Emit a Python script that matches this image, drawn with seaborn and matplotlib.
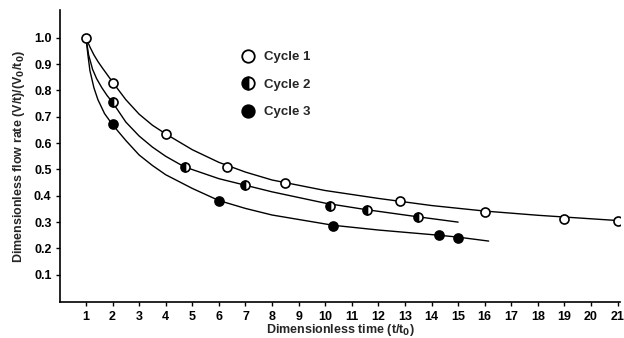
import numpy as np
import pandas as pd
import seaborn as sns
import matplotlib
matplotlib.use("Agg")
import matplotlib.pyplot as plt
from matplotlib.lines import Line2D

# Measured data points
c1_x = [1, 2, 4, 6.3, 8.5, 12.8, 16, 19, 21]
c1_y = [1.0, 0.83, 0.635, 0.51, 0.45, 0.38, 0.34, 0.313, 0.306]
c2_x = [2, 4.72, 7.0, 10.17, 11.56, 13.5]
c2_y = [0.757, 0.51, 0.44, 0.362, 0.347, 0.321]
c3_x = [2, 6.0, 10.3, 14.3, 15.0]
c3_y = [0.672, 0.38, 0.287, 0.25, 0.24]

# Fitted curves
f1_x = [1, 1.15, 1.3, 1.45, 1.6, 1.8, 2, 2.5, 3, 3.5, 4, 5, 6, 7, 8, 10, 12, 14, 16, 18, 21]
f1_y = [1.0, 0.965, 0.935, 0.91, 0.888, 0.86, 0.832, 0.765, 0.71, 0.668, 0.635, 0.575, 0.527, 0.49, 0.46, 0.42, 0.39, 0.363, 0.342, 0.326, 0.306]
f2_x = [1, 1.1, 1.25, 1.4, 1.6, 1.8, 2, 2.5, 3, 3.5, 4, 4.7, 6, 7, 8, 10, 11.5, 13.5, 15]
f2_y = [1.0, 0.935, 0.88, 0.845, 0.81, 0.78, 0.755, 0.68, 0.627, 0.585, 0.55, 0.51, 0.465, 0.44, 0.415, 0.372, 0.348, 0.32, 0.30]
f3_x = [1, 1.08, 1.15, 1.3, 1.45, 1.7, 2, 2.5, 3, 3.5, 4, 5, 6, 7, 8, 10.3, 12, 14.3, 15, 16.15]
f3_y = [1.0, 0.93, 0.875, 0.81, 0.765, 0.712, 0.67, 0.61, 0.555, 0.515, 0.48, 0.428, 0.382, 0.352, 0.327, 0.288, 0.27, 0.25, 0.243, 0.228]

x_ticks = list(range(1, 22))
y_ticks = [0.1, 0.2, 0.3, 0.4, 0.5, 0.6, 0.7, 0.8, 0.9, 1.0]
series_names = ["Cycle 1", "Cycle 2", "Cycle 3"]

sns.set_theme(style="ticks")
plt.rcParams['font.family'] = ['Liberation Sans', 'DejaVu Sans']
plt.rcParams['font.weight'] = 'bold'

fig = plt.figure(figsize=(6.24, 3.38), dpi=100)
ax = fig.add_axes([0.096, 0.106, 0.898, 0.864])

lw = 1.0
for fx, fy in [(f1_x, f1_y), (f2_x, f2_y), (f3_x, f3_y)]:
    df = pd.DataFrame({"x": fx, "y": fy})
    sns.lineplot(data=df, x="x", y="y", ax=ax, color="black", linewidth=lw,
                 sort=False, estimator=None)

ms = 6.5
mew = 1.2
df1 = pd.DataFrame({"x": c1_x, "y": c1_y})
df2 = pd.DataFrame({"x": c2_x, "y": c2_y})
df3 = pd.DataFrame({"x": c3_x, "y": c3_y})
sns.lineplot(data=df1, x="x", y="y", ax=ax, linestyle="", marker="o", markersize=ms,
             markerfacecolor="white", markeredgecolor="black", markeredgewidth=mew,
             color="black", estimator=None, zorder=5)
sns.lineplot(data=df2, x="x", y="y", ax=ax, linestyle="", marker="o", markersize=ms,
             fillstyle="left", markerfacecolor="black", markerfacecoloralt="white",
             markeredgecolor="black", markeredgewidth=mew, color="black", estimator=None, zorder=5)
sns.lineplot(data=df3, x="x", y="y", ax=ax, linestyle="", marker="o", markersize=ms,
             markerfacecolor="black", markeredgecolor="black", markeredgewidth=mew,
             color="black", estimator=None, zorder=5)

ax.set_xlim(0.02, 21.1)
ax.set_ylim(-0.004, 1.105)
ax.set_xticks(x_ticks)
ax.set_xticklabels([str(v) for v in x_ticks])
ax.set_yticks(y_ticks)
ax.set_yticklabels([f"{v:.1f}" for v in y_ticks])
ax.tick_params(axis="both", labelsize=9, length=3, width=1, direction="out", pad=3, colors="black")
for lab in ax.get_xticklabels() + ax.get_yticklabels():
    lab.set_fontweight("bold")
sns.despine(ax=ax)
for s in ["left", "bottom"]:
    ax.spines[s].set_linewidth(1.2)
    ax.spines[s].set_color("black")

ax.set_xlabel("Dimensionless time (t/t$_0$)", fontsize=9, fontweight="bold")
ax.xaxis.set_label_coords(0.5, -0.068)
ax.set_ylabel("Dimensionless flow rate (V/t)/(V$_0$/t$_0$)", fontsize=9, fontweight="bold", labelpad=5)

handles = [
    Line2D([], [], linestyle="", marker="o", markersize=9, markerfacecolor="white",
           markeredgecolor="black", markeredgewidth=1.3),
    Line2D([], [], linestyle="", marker="o", markersize=9, fillstyle="left",
           markerfacecolor="black", markerfacecoloralt="white",
           markeredgecolor="black", markeredgewidth=1.3),
    Line2D([], [], linestyle="", marker="o", markersize=9, markerfacecolor="black",
           markeredgecolor="black", markeredgewidth=1.3),
]
leg = ax.legend(handles, series_names, loc="upper left", bbox_to_anchor=(0.303, 0.90),
                frameon=False, handlelength=1.0, handletextpad=0.7,
                labelspacing=1.15, prop={"weight": "bold", "size": 9.5})

fig.savefig("out.png", dpi=100)
